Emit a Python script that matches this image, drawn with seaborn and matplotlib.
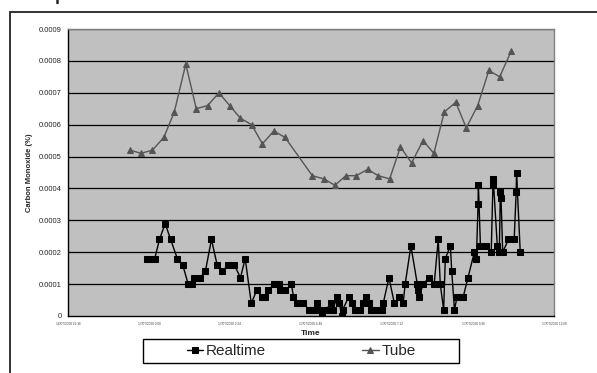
import numpy as np
import pandas as pd
import matplotlib
matplotlib.use('Agg')
import matplotlib.pyplot as plt
import seaborn as sns
from matplotlib.patches import Rectangle

# hours after 16/07/2008 21:36
realtime_hours = [2.35, 2.44, 2.57, 2.71, 2.88, 3.04, 3.24, 3.40, 3.56, 3.67,
                  3.74, 3.91, 4.07, 4.25, 4.42, 4.57, 4.75, 4.93, 5.11, 5.25,
                  5.43, 5.59, 5.75, 5.84, 5.93, 6.10, 6.19, 6.26, 6.28, 6.44,
                  6.62, 6.68, 6.79, 6.97, 7.14, 7.24, 7.32, 7.39, 7.45, 7.53,
                  7.64, 7.80, 7.84, 7.98, 8.04, 8.11, 8.14, 8.32, 8.41, 8.49,
                  8.65, 8.75, 8.82, 8.92, 8.99, 9.16, 9.30, 9.34, 9.51, 9.67,
                  9.82, 9.93, 9.99, 10.16, 10.35, 10.36, 10.39, 10.53, 10.69, 10.85,
                  10.97, 11.03, 11.13, 11.18, 11.33, 11.37, 11.45, 11.53, 11.71, 11.85,
                  12.04, 12.10, 12.15, 12.16, 12.22, 12.39, 12.54, 12.59, 12.60, 12.72,
                  12.78, 12.81, 12.83, 12.88, 13.05, 13.22, 13.28, 13.29, 13.40]
realtime_co = [0.00018, 0.00018, 0.00018, 0.00024, 0.00029, 0.00024, 0.00018, 0.00016, 0.0001, 0.0001,
               0.00012, 0.00012, 0.00014, 0.00024, 0.00016, 0.00014, 0.00016, 0.00016, 0.00012, 0.00018,
               0.00004, 0.00008, 0.00006, 0.00006, 0.00008, 0.0001, 0.0001, 0.0001, 0.00008, 0.00008,
               0.0001, 0.00006, 0.00004, 0.00004, 0.00002, 0.00002, 0.00002, 0.00004, 0.00002, 0.0,
               0.00002, 0.00004, 0.00002, 0.00006, 0.00004, 0.0, 0.00002, 0.00006, 0.00004, 0.00002,
               0.00002, 0.00004, 0.00006, 0.00004, 0.00002, 0.00002, 0.00002, 0.00004, 0.00012, 0.00004,
               0.00006, 0.00004, 0.0001, 0.00022, 0.0001, 0.00008, 0.00006, 0.0001, 0.00012, 0.0001,
               0.00024, 0.0001, 0.00002, 0.00018, 0.00022, 0.00014, 0.00002, 0.00006, 0.00006, 0.00012,
               0.0002, 0.00018, 0.00035, 0.00041, 0.00022, 0.00022, 0.0002, 0.00041, 0.00043, 0.00022,
               0.0002, 0.00039, 0.00037, 0.0002, 0.00024, 0.00024, 0.00039, 0.00045, 0.0002]

tube_hours = [1.85, 2.16, 2.50, 2.84, 3.15, 3.49, 3.80, 4.14, 4.47, 4.79,
              5.11, 5.44, 5.76, 6.10, 6.43, 7.24, 7.58, 7.91, 8.23, 8.54,
              8.88, 9.19, 9.53, 9.85, 10.18, 10.52, 10.84, 11.15, 11.49, 11.80,
              12.14, 12.47, 12.79, 13.13]
tube_co = [0.00052, 0.00051, 0.00052, 0.00056, 0.00064, 0.00079, 0.00065, 0.00066, 0.00070, 0.00066,
           0.00062, 0.00060, 0.00054, 0.00058, 0.00056, 0.00044, 0.00043, 0.00041, 0.00044, 0.00044,
           0.00046, 0.00044, 0.00043, 0.00053, 0.00048, 0.00055, 0.00051, 0.00064, 0.00067, 0.00059,
           0.00066, 0.00077, 0.00075, 0.00083]

tick_hours = [0, 2.4, 4.8, 7.2, 9.6, 12.0, 14.4]
tick_labels = ['16/07/2008 21:36', '17/07/2008 0:00', '17/07/2008 2:24', '17/07/2008 4:48',
               '17/07/2008 7:12', '17/07/2008 9:36', '17/07/2008 12:00']
y_ticks = [0, 0.0001, 0.0002, 0.0003, 0.0004, 0.0005, 0.0006, 0.0007, 0.0008, 0.0009]
y_labels = ['0', '0.0001', '0.0002', '0.0003', '0.0004', '0.0005', '0.0006', '0.0007', '0.0008', '0.0009']

sns.set_style('white')
plt.rcParams['font.family'] = ['Liberation Sans', 'DejaVu Sans']

fig = plt.figure(figsize=(5.97, 3.73), dpi=100)
ax = fig.add_axes([68/597, 1 - 316/373, 486/597, 287/373])
ax.set_facecolor('#c0c0c0')

rt = pd.DataFrame({'hours': realtime_hours, 'co': realtime_co})
tb = pd.DataFrame({'hours': tube_hours, 'co': tube_co})

sns.lineplot(data=rt, x='hours', y='co', ax=ax, color='black', marker='s', markersize=4.5,
             markeredgecolor='black', linewidth=1, label='Realtime', sort=False)
sns.lineplot(data=tb, x='hours', y='co', ax=ax, color='#555555', marker='^', markersize=4.5,
             markeredgecolor='#555555', linewidth=1, label='Tube', sort=False)

ax.set_xlim(0, 14.4)
ax.set_ylim(0, 0.0009)
ax.set_yticks(y_ticks)
ax.set_yticklabels(y_labels, fontsize=5.5)
ax.set_xticks(tick_hours)
ax.set_xticklabels(tick_labels, fontsize=2.3, color='#444444')
for y in y_ticks[1:]:
    ax.axhline(y, color='black', linewidth=0.9, zorder=0.5)
ax.tick_params(axis='both', direction='out', length=3, width=0.8, color='black', pad=1.5)
ax.tick_params(axis='x', length=2, pad=2)
ax.spines['left'].set_color('black')
ax.spines['bottom'].set_color('black')
ax.spines['top'].set_color('#808080')
ax.spines['right'].set_color('#808080')
for s in ax.spines.values():
    s.set_linewidth(1)
ax.set_xlabel('Time', fontsize=6, fontweight='bold', labelpad=3)
ax.set_ylabel('Carbon Monoxide (%)', fontsize=5.5, fontweight='bold', labelpad=4)

ax.get_legend().remove()
handles, labels = ax.get_legend_handles_labels()
leg = fig.legend(handles, labels, ncol=2, loc='center',
                 bbox_to_anchor=(301/597, 22/373), fontsize=11, frameon=False,
                 handlelength=1.1, handletextpad=0.15, columnspacing=6.3)
# legend frame
fig.patches.append(Rectangle((143/597, 10/373), 316/597, 24/373, transform=fig.transFigure,
                             fill=False, edgecolor='black', linewidth=1))

# outer chart border (only left and top visible)
fig.patches.append(Rectangle((10/597, -0.1), 1.2, 1 - 12/373 + 0.1, transform=fig.transFigure,
                             fill=False, edgecolor='#222222', linewidth=1.3))
fig.text(60/597, 1.0, 'p', fontsize=13, fontweight='bold', va='baseline', ha='center')

fig.savefig('out.png', dpi=100)
